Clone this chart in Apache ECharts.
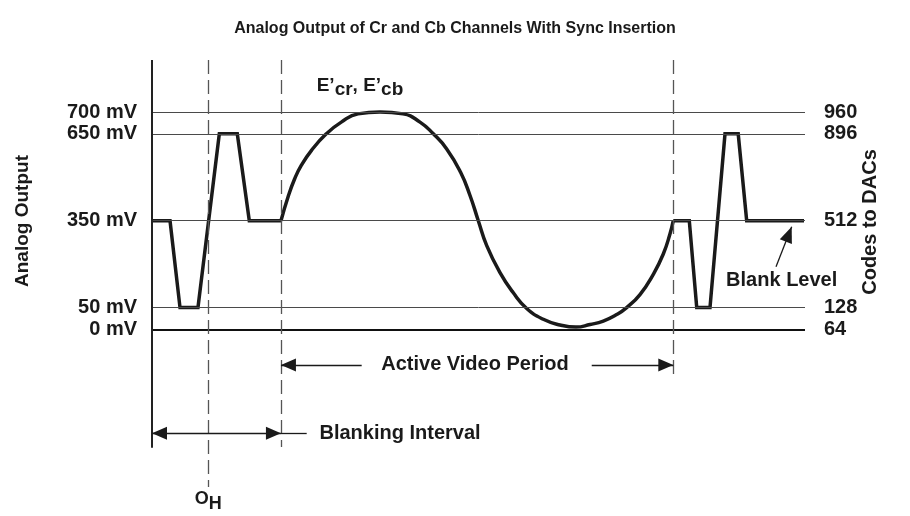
<!DOCTYPE html>
<html>
<head>
<meta charset="utf-8">
<script src="https://cdn.jsdelivr.net/npm/echarts@6/dist/echarts.min.js"></script>
<style>
  html, body { margin: 0; padding: 0; background: #ffffff; }
  #chart { width: 910px; height: 516px; }
</style>
</head>
<body>
<div id="chart"></div>
<script>
// ---- Signal levels ----
const levelMv    = [0, 50, 350, 650, 700];
const levelCodes = [64, 128, 512, 896, 960];

// ---- Leading blanking interval with sync (time in % of line, level in mV) ----
const syncLeadT  = [0, 2.76, 4.29, 7.04, 10.31, 13.06, 14.90, 19.75];
const syncLeadMv = [350, 350, 50, 50, 650, 650, 350, 350];

// ---- Trailing blanking interval with sync ----
const syncTrailT  = [79.83, 82.28, 83.42, 85.45, 87.75, 89.77, 91.07, 99.85];
const syncTrailMv = [350, 350, 50, 50, 650, 650, 350, 350];

// ---- Active video (E'cr / E'cb) ----
const videoT  = [19.75, 20.83, 21.85, 22.86, 24.40, 26.69, 28.99, 31.55, 34.92, 38.44,
                 41.04, 43.08, 45.13, 47.24, 48.70, 49.97, 51.26, 53.29, 55.33, 57.38,
                 59.92, 62.48, 64.93, 67.08, 69.11, 71.16, 72.69, 74.73, 76.77, 78.30,
                 79.33, 79.83];
const videoMv = [350, 432, 495, 541, 592, 650, 677, 696, 700, 696,
                 677, 650, 598, 518, 437, 350, 264, 171, 101, 48,
                 23, 10, 5, 11, 19, 34, 50, 95, 165, 235,
                 305, 350];

// ---- Timing markers ----
const oHT          = 8.62;
const activeStartT = 19.75;
const activeEndT   = 79.83;

// ---- Layout ----
// The levels are drawn schematically: the narrow 50 mV bands at the top and
// bottom are widened so every level stays readable.
const levelRows = [0, 1, 5, 9, 10];
const yMin = -7.4, yMax = 12.4;
const FONT = "'Liberation Sans', Arial, Helvetica, sans-serif";
const INK = '#1a1a1a';

function levelRow(mv) {
  for (let i = 1; i < levelMv.length; i++) {
    if (mv <= levelMv[i] || i === levelMv.length - 1) {
      const a = levelMv[i - 1], b = levelMv[i];
      return levelRows[i - 1] + (mv - a) / (b - a) * (levelRows[i] - levelRows[i - 1]);
    }
  }
}
function rowIndex(v) {
  let best = 0;
  levelRows.forEach((r, i) => { if (Math.abs(r - v) < Math.abs(levelRows[best] - v)) best = i; });
  return best;
}
const pairs = (ts, mvs) => ts.map((t, i) => [t, levelRow(mvs[i])]);

const boldText = { fontFamily: FONT, fontWeight: 'bold', color: INK };

// horizontal level lines
const levelLines = levelMv.map(mv => [
  { coord: [0, levelRow(mv)] },
  { coord: [100, levelRow(mv)],
    lineStyle: mv === 0 ? { width: 2.2, color: '#111' } : { width: 1, color: '#4a4a4a' } }
]);

// arrow helpers
const head = { symbol: 'triangle', symbolSize: [13, 15], symbolOffset: [0, 7.5] };
const arrowY = { active: -1.64, blanking: -4.79 };

const option = {
  animation: false,
  backgroundColor: '#ffffff',
  title: {
    text: 'Analog Output of Cr and Cb Channels With Sync Insertion',
    left: 'center', top: 16,
    textStyle: { fontFamily: FONT, fontWeight: 'bold', fontSize: 16, color: INK }
  },
  grid: { left: 152, right: 105, top: 60, bottom: 26 },
  xAxis: { type: 'value', min: 0, max: 100, show: false },
  yAxis: [
    {
      type: 'value', position: 'left', min: yMin, max: yMax,
      axisLine: { show: false }, axisTick: { show: false }, splitLine: { show: false },
      axisLabel: {
        customValues: levelRows, margin: 15, fontSize: 20, ...boldText,
        formatter: v => levelMv[rowIndex(v)] + ' mV'
      }
    },
    {
      type: 'value', position: 'right', min: yMin, max: yMax,
      axisLine: { show: false }, axisTick: { show: false }, splitLine: { show: false },
      axisLabel: {
        customValues: levelRows, margin: 19, fontSize: 20, ...boldText,
        formatter: v => String(levelCodes[rowIndex(v)])
      }
    }
  ],
  graphic: [
    { type: 'text', x: 23, y: 221, rotation: Math.PI / 2,
      style: { text: 'Analog Output', font: 'bold 19px ' + FONT, fill: INK,
               align: 'center', verticalAlign: 'middle', textAlign: 'center', textVerticalAlign: 'middle' } },
    { type: 'text', x: 870, y: 222, rotation: Math.PI / 2,
      style: { text: 'Codes to DACs', font: 'bold 20px ' + FONT, fill: INK,
               align: 'center', verticalAlign: 'middle', textAlign: 'center', textVerticalAlign: 'middle' } }
  ],
  series: [
    {
      name: 'levels', type: 'line', data: [], silent: true,
      markLine: {
        silent: true, symbol: 'none', animation: false,
        label: { show: false },
        lineStyle: { type: 'solid' },
        data: levelLines.concat([
          // vertical axis on the left
          [{ coord: [0, yMax] }, { coord: [0, -5.46], lineStyle: { width: 2, color: '#222' } }]
        ])
      }
    },
    {
      name: 'timing', type: 'line', data: [], silent: true,
      markLine: {
        silent: true, symbol: 'none', animation: false,
        lineStyle: { type: [14, 6], width: 1.3, color: '#555' },
        label: { show: false },
        data: [
          [{ coord: [oHT, yMax] }, { coord: [oHT, -7.26],
            label: {
              show: true, position: 'end', distance: 3,
              formatter: '{o|O}{h|H}',
              rich: {
                o: { fontFamily: FONT, fontWeight: 'bold', fontSize: 18, color: INK, verticalAlign: 'top', lineHeight: 23 },
                h: { fontFamily: FONT, fontWeight: 'bold', fontSize: 18, color: INK, verticalAlign: 'bottom', lineHeight: 23 }
              }
            } }],
          [{ coord: [activeStartT, yMax] }, { coord: [activeStartT, -5.42] }],
          [{ coord: [activeEndT, yMax] }, { coord: [activeEndT, -2.33] }]
        ]
      }
    },
    {
      name: 'arrows', type: 'line', data: [], silent: true,
      markLine: {
        silent: true, animation: false, symbol: 'none',
        label: { show: false },
        lineStyle: { type: 'solid', width: 1.3, color: INK },
        data: [
          [{ coord: [32.11, arrowY.active] }, { coord: [activeStartT, arrowY.active], ...head }],
          [{ coord: [67.34, arrowY.active] }, { coord: [activeEndT, arrowY.active], ...head }],
          [{ coord: [0, arrowY.blanking], ...head }, { coord: [activeStartT, arrowY.blanking], ...head }],
          [{ coord: [activeStartT, arrowY.blanking] }, { coord: [23.69, arrowY.blanking] }],
          [{ coord: [95.56, 2.88] }, { coord: [97.96, 4.72], ...head, symbolSize: [13, 16], symbolOffset: [0, 8] }]
        ]
      }
    },
    {
      name: 'sync lead', type: 'line', data: pairs(syncLeadT, syncLeadMv),
      showSymbol: false, symbol: 'none', silent: true,
      lineStyle: { width: 3.5, color: INK, join: 'miter' }
    },
    {
      name: 'sync trail', type: 'line', data: pairs(syncTrailT, syncTrailMv),
      showSymbol: false, symbol: 'none', silent: true,
      lineStyle: { width: 3.5, color: INK, join: 'miter' }
    },
    {
      name: 'active video', type: 'line', data: pairs(videoT, videoMv),
      showSymbol: false, symbol: 'none', silent: true,
      smooth: 0.5,
      lineStyle: { width: 3.5, color: INK }
    },
    {
      name: 'notes', type: 'scatter', silent: true, symbolSize: 1,
      itemStyle: { color: 'rgba(0,0,0,0)', opacity: 1 },
      label: { show: true, position: 'inside', fontSize: 20, opacity: 1, ...boldText },
      data: [
        { value: [49.46, arrowY.active], label: { formatter: 'Active Video Period' } },
        { value: [37.98, arrowY.blanking], label: { formatter: 'Blanking Interval' } },
        { value: [96.43, 2.27], label: { formatter: 'Blank Level' } },
        { value: [31.85, 11.11], label: {
            formatter: '{m|E\u2019}{s|cr}{m|, E\u2019}{s|cb}',
            rich: {
              m: { fontFamily: FONT, fontWeight: 'bold', fontSize: 19, color: INK, verticalAlign: 'top', lineHeight: 23 },
              s: { fontFamily: FONT, fontWeight: 'bold', fontSize: 19, color: INK, verticalAlign: 'bottom', lineHeight: 23 }
            } } }
      ]
    }
  ]
};

const chart = echarts.init(document.getElementById('chart'), null, { renderer: 'canvas' });
chart.setOption(option);
</script>
</body>
</html>
